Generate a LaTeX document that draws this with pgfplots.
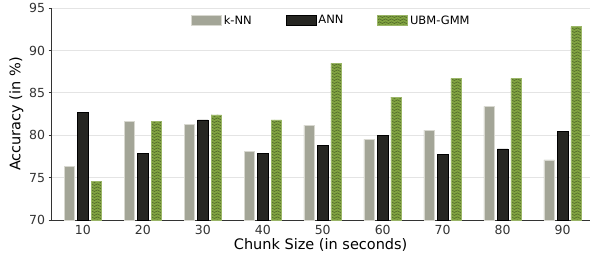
\documentclass[border={6pt 3pt 0pt 0pt}]{standalone}
\usepackage{fontspec}
\setmainfont{DejaVu Sans}
\usepackage{pgfplots}
\pgfplotsset{compat=1.18}
\usetikzlibrary{patterns}
\definecolor{knn}{HTML}{A3A597}
\definecolor{knnedge}{HTML}{D8D8D0}
\definecolor{ann}{HTML}{262622}
\definecolor{ubm}{HTML}{82A442}
\definecolor{ubmwave}{HTML}{4E6428}
\definecolor{gridc}{HTML}{E4E4E4}
\definecolor{axc}{HTML}{333333}
\pgfdeclarepatternformonly{waves}{\pgfpoint{-0.5pt}{-0.5pt}}{\pgfpoint{6.5pt}{3.5pt}}{\pgfpoint{6pt}{3pt}}{
  \pgfsetlinewidth{0.5pt}
  \pgfpathmoveto{\pgfpoint{0pt}{1.5pt}}
  \pgfpathcurveto{\pgfpoint{1pt}{2.6pt}}{\pgfpoint{2pt}{2.6pt}}{\pgfpoint{3pt}{1.5pt}}
  \pgfpathcurveto{\pgfpoint{4pt}{0.4pt}}{\pgfpoint{5pt}{0.4pt}}{\pgfpoint{6pt}{1.5pt}}
  \pgfusepath{stroke}}
\begin{document}
\begin{tikzpicture}
\begin{axis}[
  scale only axis,
  width=538pt, height=212pt,
  ybar, bar width=1.75,
  xmin=4.8, xmax=94.5,
  ymin=70, ymax=95,
  xtick={10,20,...,90},
  ytick={70,75,...,95},
  ymajorgrids, grid style={gridc, line width=0.8pt},
  axis x line*=bottom, axis y line*=left,
  axis line style={axc, line width=0.8pt, -},
  x tick style={draw=none},
  y tick style={axc, line width=0.8pt},
  tick align=outside, major tick length=3pt,
  tick label style={font=\fontsize{12.5}{14}\selectfont, text=axc},
  xticklabel style={yshift=1pt},
  /pgf/number format/assume math mode=true,
  xlabel={Chunk Size (in seconds)},
  ylabel={Accuracy (in \%)},
  label style={font=\fontsize{14.5}{16}\selectfont, text=black},
  xlabel style={yshift=3pt},
  ylabel style={yshift=-1pt},
  legend style={at={(0.52,0.985)}, anchor=north, draw=none, fill=none,
    legend columns=3, font=\fontsize{11.5}{13}\selectfont,
    /tikz/every even column/.append style={column sep=32pt}},
  legend image code/.code={\draw[#1] (0pt,-5pt) rectangle (30pt,5pt);},
]
\addplot[bar shift=-2.25, fill=knn, draw=knnedge, line width=0.6pt] coordinates {
(10,76.3) (20,81.6) (30,81.3) (40,78.1) (50,81.2) (60,79.5) (70,80.6) (80,83.4) (90,77.1)};
\addplot[bar shift=0, fill=ann, draw=black, line width=0.6pt] coordinates {
(10,82.7) (20,77.9) (30,81.8) (40,77.9) (50,78.8) (60,80.0) (70,77.7) (80,78.4) (90,80.5)};
\addplot[bar shift=2.25, fill=ubm, draw=ubm!80!white, line width=0.6pt,
  postaction={pattern=waves, pattern color=ubmwave}] coordinates {
(10,74.6) (20,81.6) (30,82.4) (40,81.8) (50,88.5) (60,84.5) (70,86.7) (80,86.7) (90,92.8)};
\legend{k-NN, ANN, UBM-GMM}
\end{axis}
\end{tikzpicture}
\end{document}
